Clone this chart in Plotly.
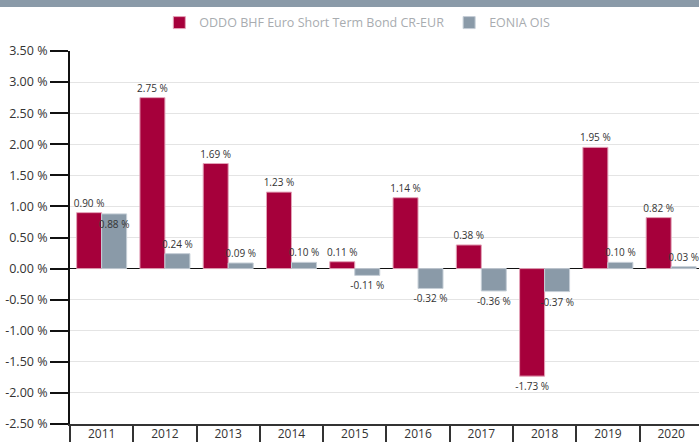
import plotly.graph_objects as go

years = ["2011", "2012", "2013", "2014", "2015", "2016", "2017", "2018", "2019", "2020"]
fund = [0.90, 2.75, 1.69, 1.23, 0.11, 1.14, 0.38, -1.73, 1.95, 0.82]
eonia = [0.88, 0.24, 0.09, 0.10, -0.11, -0.32, -0.36, -0.37, 0.10, 0.03]
fund_name = "ODDO BHF Euro Short Term Bond CR-EUR"
eonia_name = "EONIA OIS"
y_ticks = [-2.5, -2.0, -1.5, -1.0, -0.5, 0.0, 0.5, 1.0, 1.5, 2.0, 2.5, 3.0, 3.5]

RED = "#a6003b"
GRAY = "#8a9aa8"
FONT = "Open Sans, Noto Sans, sans-serif"

def lbl(v):
    return f"{v:.2f} %"

eonia_pos = ["inside" if i == 0 else "outside" for i in range(len(eonia))]

fig = go.Figure()
fig.add_trace(go.Bar(
    x=years, y=fund, name=fund_name,
    marker=dict(color=RED, line=dict(color="#e3a3b8", width=1)),
    text=[lbl(v) for v in fund], textposition="outside",
    textfont=dict(size=10, color="#333333", family=FONT),
    cliponaxis=False, constraintext="none", textangle=0,
))
fig.add_trace(go.Bar(
    x=years, y=eonia, name=eonia_name,
    marker=dict(color=GRAY, line=dict(color="#c5ced6", width=1)),
    text=[lbl(v) for v in eonia], textposition=eonia_pos,
    insidetextanchor="end",
    textfont=dict(size=10, color="#333333", family=FONT),
    cliponaxis=False, constraintext="none", textangle=0,
))

fig.update_layout(
    width=699, height=442,
    margin=dict(l=70, r=0, t=51, b=18, autoexpand=False),
    paper_bgcolor="white", plot_bgcolor="white",
    font=dict(family=FONT, color="#333333", size=12),
    barmode="group", bargap=0.21, bargroupgap=0,
    showlegend=True,
    legend=dict(orientation="h", x=0.142, xanchor="left", y=0.982, yref="container",
                yanchor="top", font=dict(size=12.5, color="#a8acb0", family=FONT),
                bgcolor="rgba(0,0,0,0)", traceorder="normal"),
    shapes=[dict(type="rect", xref="paper", yref="paper", x0=-0.2, x1=1.2,
                 y0=1.118, y1=1.2, fillcolor=GRAY, line=dict(width=0))],
)

fig.update_xaxes(
    type="category", range=[-0.5, 9.44], automargin=False,
    showline=True, linecolor="#333333", linewidth=2,
    ticks="outside", tickson="boundaries", ticklen=18, tickwidth=2, tickcolor="#333333",
    ticklabelstandoff=-2, tickfont=dict(size=12, color="#333333"),
    showgrid=False, fixedrange=True,
)
fig.update_yaxes(
    range=[-2.5, 3.5], tickvals=y_ticks, ticktext=[lbl(v) for v in y_ticks],
    automargin=False, fixedrange=True,
    showline=True, linecolor="#111111", linewidth=2,
    ticks="outside", ticklen=18, tickwidth=2, tickcolor="#111111",
    tickfont=dict(size=12.5, color="#333333"),
    showgrid=True, gridcolor="#e4e4e4", gridwidth=1,
    zeroline=True, zerolinecolor="#111111", zerolinewidth=1,
)

fig.write_html("out.html", config={"displayModeBar": False},
               post_script="document.body.style.margin='0';")
